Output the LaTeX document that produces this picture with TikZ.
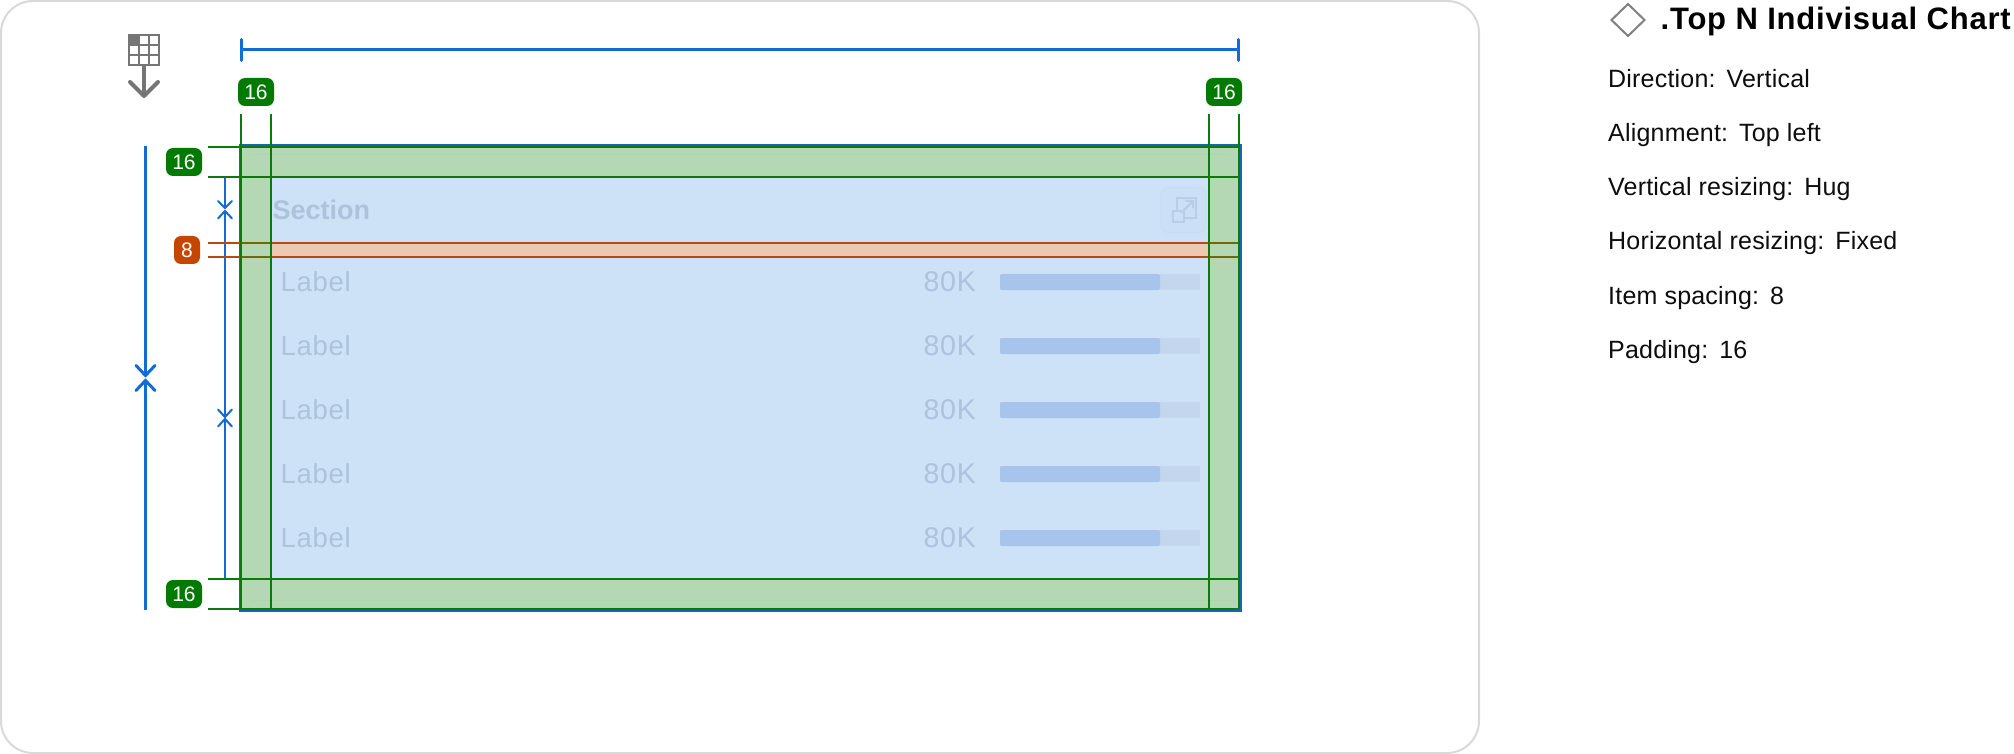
\documentclass[tikz,border=0pt]{standalone}
\usepackage{fontspec}
\setmainfont{Liberation Sans}
\newfontfamily\bodyfont[LetterSpace=0.8]{Liberation Sans}
\newfontfamily\labelfont[LetterSpace=2.5]{Liberation Sans}
\newfontfamily\headfont[LetterSpace=2.5]{Liberation Sans}
\definecolor{framegray}{HTML}{D9D9D9}
\definecolor{icongray}{HTML}{757575}
\definecolor{dimblue}{HTML}{126BD6}
\definecolor{selblue}{HTML}{1565B8}
\definecolor{padgreen}{HTML}{0A7A0A}
\definecolor{padfill}{HTML}{B4D8B4}
\definecolor{cardedge}{HTML}{AFD5AF}
\definecolor{badgegreen}{HTML}{007A00}
\definecolor{badgeorange}{HTML}{C54600}
\definecolor{gaporange}{HTML}{B54A14}
\definecolor{gapolive}{HTML}{6F6A05}
\definecolor{gapfill}{HTML}{EDC8B2}
\definecolor{bodyfill}{HTML}{CDE2F7}
\definecolor{ghost}{HTML}{ADC3DC}
\definecolor{barfill}{HTML}{A6C4EC}
\definecolor{trackfill}{HTML}{C4D5EE}
\definecolor{iconbox}{HTML}{CBE0F6}
\definecolor{iconedge}{HTML}{C9DDF5}
\definecolor{iconline}{HTML}{B9CDE6}
\tikzset{
  badge/.style={fill=#1,rounded corners=7pt,inner sep=0pt,text=white,align=center,font=\fontsize{21}{21}\selectfont},
  gridline/.style={draw=icongray,line width=2.4pt},
  arrowline/.style={draw=icongray,line width=4pt,line cap=round,line join=round},
  dimbig/.style={draw=dimblue,line width=3pt},
  dimsmall/.style={draw=dimblue,line width=2pt},
  padline/.style={draw=padgreen,line width=2pt},
  gapline/.style={draw=gaporange,line width=2pt},
  oliveline/.style={draw=gapolive,line width=2pt},
  ghosttext/.style={text=ghost,anchor=base west,inner sep=0pt},
  infotext/.style={anchor=base west,inner sep=0pt,text=black!95,font=\bodyfont\fontsize{25}{25}\selectfont},
}
\begin{document}
\begin{tikzpicture}[x=1pt,y=-1pt]
\useasboundingbox (0,0) rectangle (2014,754);
\fill[white] (0,0) rectangle (2014,754);
% frame
\draw[framegray,line width=2pt,rounded corners=32pt] (1,1) rectangle (1479,753);
% grid icon
\fill[icongray] (128,34) rectangle (140,46);
\draw[gridline] (129.2,35.2) rectangle (158.8,64.8);
\draw[gridline] (139,35) -- (139,65) (149,35) -- (149,65) (129,45) -- (159,45) (129,55) -- (159,55);
\coordinate (stemtop) at (144,66);
\coordinate (stemend) at (144,96);
\draw[icongray,line width=4pt] (stemtop) -- (144,94);
\draw[arrowline] (130,82) -- (stemend) -- (158,82);
% body
\fill[bodyfill] (241,146) rectangle (1239,610);
\fill[gapfill] (271,243) rectangle (1209,257);
\fill[padfill] (241,146) rectangle (1239,177);
\fill[padfill] (241,579) rectangle (1239,610);
\fill[padfill] (241,177) rectangle (271,579);
\fill[padfill] (1209,177) rectangle (1239,579);
% faint card edge showing through the padding
\draw[cardedge,line width=1pt] (252,155) -- (1229,155);
\draw[cardedge,line width=1pt] (252,600) -- (1235,600);
% ghost content
\node[ghosttext,font=\fontsize{27}{27}\selectfont\bfseries] (section) at (272.5,220) {Section};
\node[draw=iconedge,fill=iconbox,line width=1.5pt,rounded corners=7pt,minimum width=45pt,minimum height=45pt,inner sep=0pt] (expandbox) at (1183.7,210) {};
\draw[iconline,line width=2pt] (1177,211) -- (1177,198.5) -- (1196,198.5) -- (1196,218) -- (1183,218);
\draw[iconline,line width=2pt] (1172.5,211.5) rectangle (1183.5,222);
\draw[iconline,line width=2pt] (1181,213) -- (1193,201) (1185.5,201) -- (1193,201) -- (1193,208.5);
\foreach \i/\yy in {1/292,2/356,3/420,4/484,5/548}{
  \node[ghosttext,font=\labelfont\fontsize{27.5}{27.5}\selectfont] (label\i) at (280.5,\yy-0.5) {Label};
  \node[ghosttext,anchor=base east,font=\labelfont\fontsize{28.5}{28.5}\selectfont] (value\i) at (976,\yy-0.5) {80K};
  \fill[trackfill] (1000,\yy-18) rectangle (1200,\yy-2);
  \fill[barfill,rounded corners=2pt] (1000,\yy-18) rectangle (1160,\yy-2);
}
% selection box
\draw[selblue,line width=3pt] (240,145.5) rectangle (1240.5,610.5);
% padding lines
\draw[padline] (208,147) -- (1239,147);
\draw[padline] (208,177) -- (1239,177);
\draw[padline] (208,579) -- (1239,579);
\draw[padline] (208,609) -- (1239,609);
% small dimension
\coordinate (smalltop) at (225,178);
\coordinate (smallmidA) at (225,208);
\coordinate (smallmidB) at (225,211);
\coordinate (smallmidC) at (225,417);
\coordinate (smallmidD) at (225,419);
\coordinate (smallbot) at (225,578);
\draw[dimsmall] (smalltop) -- (smallmidA);
\draw[dimsmall,line cap=round] (218,201) -- (smallmidA) -- (232,201);
\draw[dimsmall,line cap=round] (218,218.5) -- (smallmidB) -- (232,218.5);
\draw[dimsmall] (smallmidB) -- (smallmidC);
\draw[dimsmall,line cap=round] (218,409.5) -- (smallmidC) -- (232,409.5);
\draw[dimsmall,line cap=round] (218,426.5) -- (smallmidD) -- (232,426.5);
\draw[dimsmall] (smallmidD) -- (smallbot);
% gap lines
\draw[gapline] (208,243) -- (1239,243);
\draw[gapline] (208,257) -- (1239,257);
\draw[oliveline] (241,243) -- (271,243) (241,257) -- (271,257) (1209,243) -- (1239,243) (1209,257) -- (1239,257);
% vertical padding lines
\draw[padline] (241,114) -- (241,609);
\draw[padline] (271,114) -- (271,609);
\draw[padline] (1209,114) -- (1209,609);
\draw[padline] (1239,114) -- (1239,609);
% top dimension
\coordinate (hleft) at (241.5,49.5);
\coordinate (hright) at (1238.5,49.5);
\draw[dimbig] (hleft) -- (hright);
\draw[dimbig,line cap=round] (241.5,39.5) -- (241.5,60.5);
\draw[dimbig,line cap=round] (1238.5,39.5) -- (1238.5,60.5);
% left dimension
\coordinate (vtop) at (145.5,146);
\coordinate (vbot) at (145.5,610);
\coordinate (vmidA) at (145.5,375.5);
\coordinate (vmidB) at (145.5,380.5);
\draw[dimbig] (vtop) -- (vmidA);
\draw[dimbig,line cap=round] (136,365.5) -- (vmidA) -- (155,365.5);
\draw[dimbig,line cap=round] (136,390.5) -- (vmidB) -- (155,390.5);
\draw[dimbig] (vmidB) -- (vbot);
% badges
\node[badge=badgegreen,minimum width=36pt,minimum height=28pt] (btl) at (256,92) {16};
\node[badge=badgegreen,minimum width=36pt,minimum height=28pt] (btr) at (1224,92) {16};
\node[badge=badgegreen,minimum width=36pt,minimum height=28pt] (blt) at (184,162) {16};
\node[badge=badgeorange,minimum width=26pt,minimum height=28pt] (blm) at (187,250) {8};
\node[badge=badgegreen,minimum width=36pt,minimum height=28pt] (blb) at (184,594) {16};
% right panel
\draw[draw=gray,line width=2pt] (1628,4) -- (1644.5,20) -- (1628,36) -- (1611.5,20) -- cycle;
\node[anchor=base west,inner sep=0pt,text=black,font=\headfont\fontsize{31}{31}\selectfont\bfseries] (title) at (1660.5,29.3) {.Top N Indivisual Chart};
\node[infotext] (info1) at (1608,88) {Direction:\hspace{11pt}Vertical};
\node[infotext] (info2) at (1608,142) {Alignment:\hspace{11pt}Top left};
\node[infotext] (info3) at (1608,196) {Vertical resizing:\hspace{11pt}Hug};
\node[infotext] (info4) at (1608,250) {Horizontal resizing:\hspace{11pt}Fixed};
\node[infotext] (info5) at (1608,304) {Item spacing:\hspace{11pt}8};
\node[infotext] (info6) at (1608,358) {Padding:\hspace{11pt}16};
\end{tikzpicture}
\end{document}
